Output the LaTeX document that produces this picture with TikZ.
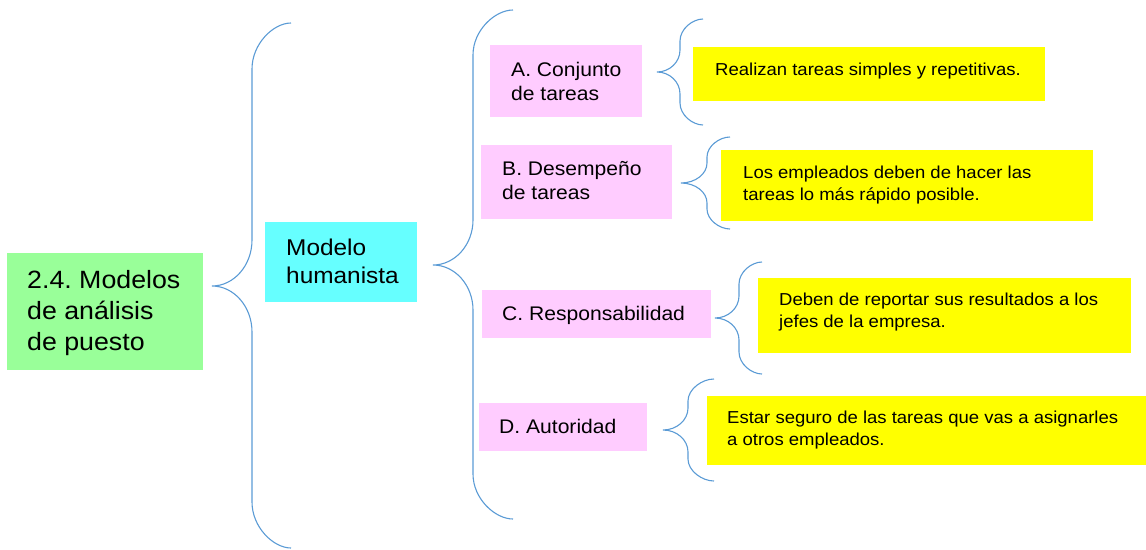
\documentclass[tikz,border=0pt]{standalone}
\usepackage{fontspec}
\setmainfont{Liberation Sans}[FakeStretch=1.07]
\definecolor{bracecol}{HTML}{5B9BD5}
\definecolor{gfill}{HTML}{99FF99}
\definecolor{cfill}{HTML}{66FFFF}
\definecolor{pfill}{HTML}{FFCCFF}
\definecolor{yfill}{HTML}{FFFF00}
\newcommand\twolines[2]{\vtop{\hbox{#1}\hbox{#2}}}
\newcommand\threelines[3]{\vtop{\hbox{#1}\hbox{#2}\hbox{#3}}}
% #1 xtip #2 ytip #3 xv #4 xe #5 ytop #6 ybot #7 r
\newcommand\mybrace[7]{%
  \draw[bracecurve] (#4,#5)
    .. controls ({#3+0.55*(#4-#3)},#5) and (#3,{#5+0.45*#7}) .. (#3,{#5+#7})
    -- (#3,{#2-#7})
    .. controls (#3,{#2-0.45*#7}) and ({#1+0.55*(#3-#1)},#2) .. (#1,#2)
    .. controls ({#1+0.55*(#3-#1)},#2) and (#3,{#2+0.45*#7}) .. (#3,{#2+#7})
    -- (#3,{#6-#7})
    .. controls (#3,{#6-0.45*#7}) and ({#3+0.55*(#4-#3)},#6) .. (#4,#6);}
\begin{document}
\frenchspacing
\begin{tikzpicture}[x=1pt,y=-1pt,
  box/.style={draw=none, inner sep=0pt, anchor=north west},
  gbox/.style={box, fill=gfill},
  cbox/.style={box, fill=cfill},
  pbox/.style={box, fill=pfill},
  ybox/.style={box, fill=yfill},
  lbl/.style={anchor=base west, inner sep=0pt, text=black},
  gtxt/.style={lbl, font=\fontsize{25}{31}\selectfont},
  ctxt/.style={lbl, font=\fontsize{22.8}{28}\selectfont},
  ptxt/.style={lbl, font=\fontsize{19.7}{24}\selectfont},
  ytxt/.style={lbl, font=\fontsize{17.3}{22}\selectfont},
  bracecurve/.style={draw=bracecol, line width=1.1pt}]
\useasboundingbox (0,0) rectangle (1146,549);

% boxes
\node[gbox, minimum width=196pt, minimum height=117pt] (g) at (7,253) {};
\node[cbox, minimum width=152pt, minimum height=80pt] (c) at (265,222) {};
\node[pbox, minimum width=152pt, minimum height=72pt] (pa) at (490,45) {};
\node[pbox, minimum width=191pt, minimum height=74pt] (pb) at (481,145) {};
\node[pbox, minimum width=229pt, minimum height=48pt] (pc) at (482,290) {};
\node[pbox, minimum width=168pt, minimum height=48pt] (pd) at (479,403) {};
\node[ybox, minimum width=352pt, minimum height=54pt] (ya) at (693,47) {};
\node[ybox, minimum width=372pt, minimum height=71pt] (yb) at (721,150) {};
\node[ybox, minimum width=373pt, minimum height=75pt] (yc) at (758,278) {};
\node[ybox, minimum width=439pt, minimum height=69pt] (yd) at (707,396) {};

% texts
\node[gtxt] (gt) at (27,288) {\threelines{2.4. Modelos}{de análisis}{de puesto}};
\node[ctxt] (ct) at (286,255) {\twolines{Modelo}{humanista}};
\node[ptxt] (pat) at (511,76) {\twolines{A. Conjunto}{de tareas}};
\node[ptxt] (pbt) at (502,175) {\twolines{B. Desempeño}{de tareas}};
\node[ptxt] (pct) at (502,320) {C. Responsabilidad};
\node[ptxt] (pdt) at (499,433) {D. Autoridad};
\node[ytxt] (yat) at (715,75) {Realizan tareas simples y repetitivas.};
\node[ytxt] (ybt) at (743,178) {\twolines{Los empleados deben de hacer las}{tareas lo más rápido posible.}};
\node[ytxt] (yct) at (779,305) {\twolines{Deben de reportar sus resultados a los}{jefes de la empresa.}};
\node[ytxt] (ydt) at (727,423) {\twolines{Estar seguro de las tareas que vas a asignarles}{a otros empleados.}};

% braces
\coordinate (b1) at (212,286);
\coordinate (b2) at (433,265);
\coordinate (ba) at (657,72);
\coordinate (bb) at (681,183);
\coordinate (bc) at (715,318);
\coordinate (bd) at (663,430);
\mybrace{212}{286}{252}{291}{23}{548}{46}
\mybrace{433}{265}{473}{513}{10}{519}{45}
\mybrace{657}{72}{680}{703}{19}{125}{22}
\mybrace{681}{183}{707}{730}{137}{229}{20}
\mybrace{715}{318}{739}{762}{262}{374}{22}
\mybrace{663}{430}{688}{714}{379}{481}{22}
\end{tikzpicture}
\end{document}
